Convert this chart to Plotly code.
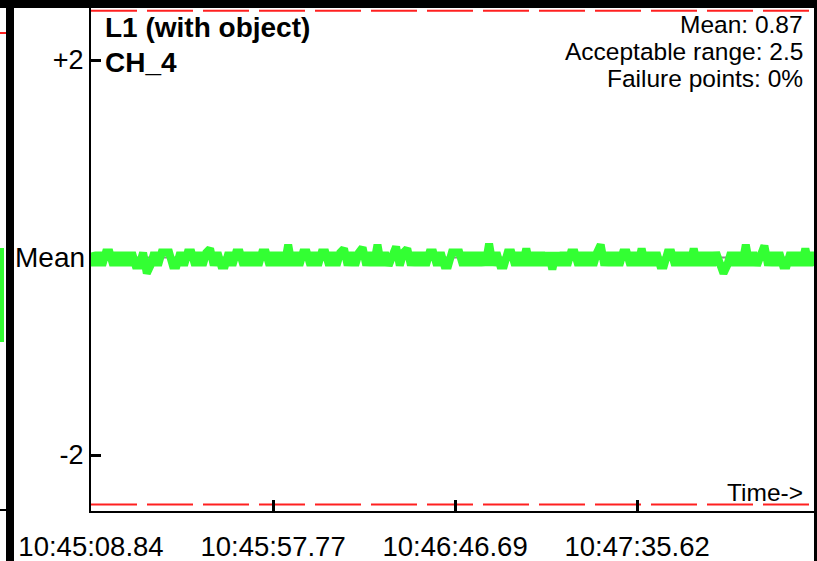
import plotly.graph_objects as go

# ---------------- data ----------------
CHART_TITLE = "L1 (with object)"
CHANNEL = "CH_4"
MEAN = 0.87
ACCEPT_RANGE = 2.5
FAILURE_PCT = 0
SAMPLE_INTERVAL_S = 1.0

# signal values (one per second)
SIGNAL = [
    0.92, 0.79, 0.92, 0.79, 0.92, 0.92, 0.79, 0.92, 0.79, 0.92,
    0.79, 0.92, 0.79, 0.79, 0.92, 0.71, 0.79, 0.92, 0.79, 0.92,
    0.92, 0.92, 0.79, 0.79, 0.92, 0.79, 0.92, 0.92, 0.79, 0.92,
    0.79, 0.92, 0.96, 0.79, 0.92, 0.79, 0.79, 0.92, 0.79, 0.92,
    0.92, 0.79, 0.92, 0.79, 0.92, 0.79, 0.92, 0.92, 0.79, 0.92,
    0.79, 0.92, 0.79, 1.00, 0.79, 0.92, 0.79, 0.92, 0.92, 0.79,
    0.92, 0.79, 0.92, 0.92, 0.79, 0.92, 0.79, 0.92, 0.96, 0.79,
    0.92, 0.79, 0.92, 0.97, 0.79, 0.92, 0.79, 1.00, 0.79, 0.92,
    0.79, 0.92, 0.98, 0.79, 0.92, 0.96, 0.79, 0.92, 0.79, 0.92,
    0.79, 0.92, 0.92, 0.79, 0.92, 0.79, 0.79, 0.92, 0.92, 0.92,
    0.79, 0.92, 0.79, 0.92, 0.79, 0.92, 0.79, 1.01, 0.79, 0.92,
    0.79, 0.79, 0.92, 0.92, 0.79, 0.92, 0.79, 0.96, 0.79, 0.92,
    0.79, 0.92, 0.79, 0.92, 0.75, 0.92, 0.79, 0.92, 0.79, 0.92,
    0.92, 0.79, 0.92, 0.79, 0.92, 0.79, 0.92, 1.00, 0.79, 0.92,
    0.79, 0.92, 0.79, 0.92, 0.92, 0.79, 0.92, 0.79, 0.96, 0.79,
    0.92, 0.79, 0.92, 0.79, 0.79, 0.92, 0.92, 0.79, 0.92, 0.79,
    0.92, 0.79, 0.96, 0.79, 0.92, 0.79, 0.92, 0.79, 0.92, 0.79,
    0.71, 0.79, 0.92, 0.79, 0.92, 0.79, 1.00, 0.79, 0.92, 0.79,
    0.92, 0.99, 0.79, 0.92, 0.79, 0.92, 0.79, 0.79, 0.92, 0.79,
    0.92, 0.79, 0.96, 0.79, 0.92, 0.79,
]
TIME_S = [i * SAMPLE_INTERVAL_S for i in range(len(SIGNAL))]

X_TICK_POS = [0.0, 48.93, 97.85, 146.78]
X_TICK_LABELS = ["10:45:08.84", "10:45:57.77", "10:46:46.69", "10:47:35.62"]
Y_TICK_DEV = [2, -2]
Y_TICK_LABELS = ["+2", "-2"]
X_MAX = 194.6
Y_MIN_DEV, Y_MAX_DEV = -2.567, 2.608

# ---------------- layout helpers ----------------
W, H = 817, 561
ML, MR, MT, MB = 91, 2, 0, 50
PW, PH = W - ML - MR, H - MT - MB
FONT = "Liberation Sans, Arial, sans-serif"


def px(x):
    return (x - ML) / PW


def py(y):
    return 1 - (y - MT) / PH


fig = go.Figure()

# mean line
fig.add_trace(go.Scatter(
    x=[0, X_MAX], y=[MEAN, MEAN], mode="lines",
    line=dict(color="#8c8c8c", width=2), hoverinfo="skip", showlegend=False))

# acceptable range limits
for lim in (MEAN + ACCEPT_RANGE, MEAN - ACCEPT_RANGE):
    fig.add_trace(go.Scatter(
        x=[0, X_MAX], y=[lim, lim], mode="lines",
        line=dict(color="#ff2020", width=2, dash="46px,10px"),
        hoverinfo="skip", showlegend=False))

# signal
fig.add_trace(go.Scatter(
    x=TIME_S, y=SIGNAL, mode="lines",
    line=dict(color="#33ff33", width=8), hoverinfo="skip", showlegend=False))

shapes = [
    # top thick border
    dict(type="rect", xref="paper", yref="paper", x0=px(0), x1=px(815), y0=py(8), y1=py(0),
         fillcolor="black", line=dict(width=0), layer="above"),
    # left thick bar (neighbouring panel edge)
    dict(type="rect", xref="paper", yref="paper", x0=px(6), x1=px(14), y0=py(561), y1=py(0),
         fillcolor="black", line=dict(width=0), layer="above"),
    # right thick bar
    dict(type="rect", xref="paper", yref="paper", x0=px(814), x1=px(817), y0=py(561), y1=py(0),
         fillcolor="black", line=dict(width=0), layer="above"),
    # neighbouring panel fragments
    dict(type="line", xref="paper", yref="paper", x0=px(0), x1=px(6), y0=py(33), y1=py(33),
         line=dict(color="#ff2020", width=2)),
    dict(type="line", xref="paper", yref="paper", x0=px(0), x1=px(6), y0=py(510), y1=py(510),
         line=dict(color="black", width=2)),
    dict(type="rect", xref="paper", yref="paper", x0=px(0), x1=px(4), y0=py(342), y1=py(248),
         fillcolor="#33ff33", line=dict(width=0)),
]

annotations = [
    dict(text=f"<b>{CHART_TITLE}</b>", x=px(103), y=py(27), xref="paper", yref="paper",
         xanchor="left", yanchor="middle", showarrow=False, font=dict(size=28, color="black", family=FONT)),
    dict(text=f"<b>{CHANNEL}</b>", x=px(103), y=py(62), xref="paper", yref="paper",
         xanchor="left", yanchor="middle", showarrow=False, font=dict(size=28, color="black", family=FONT)),
    dict(text=f"Mean: {MEAN}", x=px(805), y=py(24), xref="paper", yref="paper",
         xanchor="right", yanchor="middle", showarrow=False, font=dict(size=24.5, color="black", family=FONT)),
    dict(text=f"Acceptable range: {ACCEPT_RANGE}", x=px(805), y=py(51), xref="paper", yref="paper",
         xanchor="right", yanchor="middle", showarrow=False, font=dict(size=24.5, color="black", family=FONT)),
    dict(text=f"Failure points: {FAILURE_PCT}%", x=px(805), y=py(78), xref="paper", yref="paper",
         xanchor="right", yanchor="middle", showarrow=False, font=dict(size=24.5, color="black", family=FONT)),
    dict(text="Time->", x=px(805), y=py(492), xref="paper", yref="paper",
         xanchor="right", yanchor="middle", showarrow=False, font=dict(size=24.5, color="black", family=FONT)),
    dict(text="Mean", x=px(87), y=MEAN, xref="paper", yref="y",
         xanchor="right", yanchor="middle", showarrow=False, font=dict(size=28, color="black", family=FONT)),
]

fig.update_layout(
    width=W, height=H,
    margin=dict(l=ML, r=MR, t=MT, b=MB, pad=0),
    paper_bgcolor="white", plot_bgcolor="white",
    showlegend=False,
    shapes=shapes, annotations=annotations,
    font=dict(family=FONT, color="black"),
    xaxis=dict(range=[0, X_MAX], tickvals=X_TICK_POS, ticktext=X_TICK_LABELS,
               showgrid=False, zeroline=False, showline=True, linecolor="black", linewidth=2,
               ticks="inside", ticklen=11, tickwidth=3, tickcolor="black", ticklabelstandoff=10,
               tickfont=dict(size=27.5, family=FONT, color="black"), fixedrange=True),
    yaxis=dict(range=[MEAN + Y_MIN_DEV, MEAN + Y_MAX_DEV],
               tickvals=[MEAN + d for d in Y_TICK_DEV], ticktext=Y_TICK_LABELS,
               showgrid=False, zeroline=False, showline=True, linecolor="black", linewidth=2,
               ticks="inside", ticklen=10, tickwidth=3, tickcolor="black",
               tickfont=dict(size=27, family=FONT, color="black"), fixedrange=True),
)

fig.write_html(
    "out.html",
    config={"displayModeBar": False},
    post_script="document.body.style.margin='0';document.body.style.overflow='hidden';",
)
